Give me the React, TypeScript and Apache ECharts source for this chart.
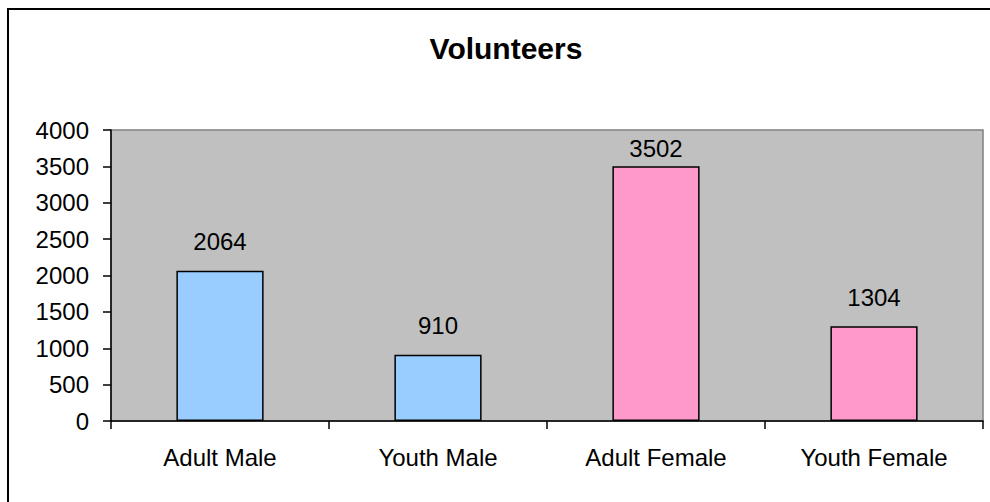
import React, { useEffect, useRef } from "react";
import * as echarts from "echarts";

const categories = ["Adult Male", "Youth Male", "Adult Female", "Youth Female"];
const values = [2064, 910, 3502, 1304];
const barColors = ["#99CCFF", "#99CCFF", "#FF99CC", "#FF99CC"];
const titleText = "Volunteers";
const yMax = 4000;

export default function App() {
  const ref = useRef<HTMLDivElement>(null);
  useEffect(() => {
    if (!ref.current) return;
    const chart = echarts.init(ref.current, undefined, { renderer: "svg" });
    const font = "Arial, 'Liberation Sans', sans-serif";
    const gridTop = 130;
    const gridBottom = 81;
    const plotH = 502 - gridTop - gridBottom;
    // keep labels inside the plot area (as the original does)
    const labelDistance = (v: number) => {
      const barTop = gridTop + (1 - v / yMax) * plotH;
      return Math.max(2, Math.min(17, barTop - gridTop - 30));
    };
    chart.setOption({
      animation: false,
      backgroundColor: "#ffffff",
      textStyle: { fontFamily: font },
      graphic: [
        {
          type: "line",
          shape: { x1: 7, y1: 9, x2: 990, y2: 9 },
          style: { stroke: "#000", lineWidth: 2 },
          silent: true,
        },
        {
          type: "line",
          shape: { x1: 8, y1: 8, x2: 8, y2: 502 },
          style: { stroke: "#000", lineWidth: 2 },
          silent: true,
        },
        {
          type: "text",
          x: 506,
          y: 48,
          style: {
            text: titleText,
            fontSize: 30,
            fontWeight: "bold",
            fontFamily: font,
            fill: "#000",
            align: "center",
            verticalAlign: "middle",
          },
        },
      ],
      grid: {
        left: 111,
        top: gridTop,
        right: 7,
        bottom: gridBottom,
        show: true,
        backgroundColor: "#C0C0C0",
        borderColor: "#808080",
        borderWidth: 1.5,
      },
      xAxis: {
        type: "category",
        data: categories,
        boundaryGap: true,
        axisLine: { show: true, lineStyle: { color: "#000", width: 1.5 } },
        axisTick: { show: true, length: 8, interval: 0, lineStyle: { color: "#000", width: 1.5 } },
        axisLabel: { fontSize: 24, color: "#000", margin: 24, interval: 0, fontFamily: font },
        splitLine: { show: false },
      },
      yAxis: {
        type: "value",
        min: 0,
        max: yMax,
        interval: 500,
        axisLine: { show: true, lineStyle: { color: "#000", width: 1.5 } },
        axisTick: { show: true, length: 8, lineStyle: { color: "#000", width: 1.5 } },
        axisLabel: {
          fontSize: 24,
          color: "#000",
          margin: 22,
          fontFamily: font,
          formatter: (v: number) => String(v),
        },
        splitLine: { show: false },
      },
      series: [
        {
          type: "bar",
          data: values.map((v, i) => ({
            value: v,
            itemStyle: { color: barColors[i] },
            label: { distance: labelDistance(v) },
          })),
          barWidth: "40%",
          itemStyle: { borderColor: "#000", borderWidth: 1.5 },
          label: {
            show: true,
            position: "top",
            distance: 17,
            fontSize: 24,
            color: "#000",
            fontFamily: font,
          },
        },
      ],
    });
    return () => chart.dispose();
  }, []);
  return (
    <div
      ref={ref}
      style={{ position: "fixed", left: 0, top: 0, width: 990, height: 502 }}
    />
  );
}
